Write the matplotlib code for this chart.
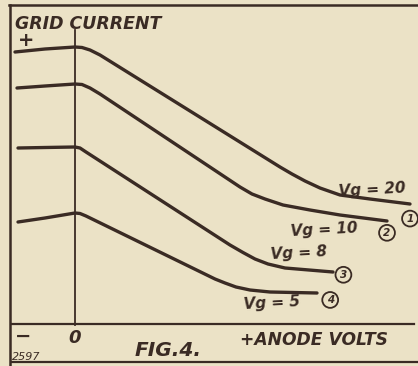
import numpy as np
from matplotlib import pyplot as plt

plt.rcParams.update({
    "font.family": ['DejaVu Sans'],
    "font.style": 'italic',
    "font.weight": 'bold',
})

paper = '#ebe2c6'
ink = '#3a2b24'

# anode volts (arbitrary scale) and grid current for each grid voltage
v_g20 = [-30, -15, 0, 3.5, 7.5, 12.5, 102.5, 108.5, 115, 122.5, 132.5, 147.5, 167.5]
i_g20 = [27.2, 27.5, 27.7, 27.65, 27.4, 26.9, 15.7, 15.0, 14.3, 13.6, 12.9, 12.5, 12.0]

v_g10 = [-29, -15, 0, 3.5, 7.5, 12.5, 82.5, 88.5, 95, 104, 117.5, 132.5, 156]
i_g10 = [23.6, 23.8, 24.0, 23.95, 23.6, 23.0, 13.7, 13.0, 12.5, 11.9, 11.4, 10.9, 10.3]

v_g8 = [-28.5, -15, 0, 2.5, 5.5, 77.5, 84, 90, 96.5, 105, 129]
i_g8 = [17.6, 17.65, 17.7, 17.6, 17.2, 7.9, 7.15, 6.5, 6.0, 5.6, 5.2]

v_g5 = [-28.5, -15, 0, 2.5, 5.5, 70, 75, 80.5, 87.5, 97.5, 121]
i_g5 = [10.2, 10.6, 11.1, 11.05, 10.8, 4.5, 4.1, 3.7, 3.4, 3.2, 3.1]

curves = [(v_g20, i_g20), (v_g10, i_g10), (v_g8, i_g8), (v_g5, i_g5)]
vg_labels = ['Vg = 20', 'Vg = 10', 'Vg = 8', 'Vg = 5']
vg_label_pos = [(131.5, 13.4), (107.5, 9.4), (97.5, 7.1), (84, 2.1)]
circle_offsets = [(0, -10.5), (0, -8.5), (7.5, -2), (9.5, -5)]

fig = plt.figure(figsize=(4.18, 3.66), dpi=100, facecolor=paper)
ax = fig.add_axes([0, 0, 1, 1])
ax.set_facecolor(paper)
ax.set_xlim(-37.5, 171.5)
ax.set_ylim(-4.2, 32.4)
ax.axis('off')

# outer frame
ax.plot([0.024, 0.024], [0.0, 0.985], transform=ax.transAxes, color=ink, lw=1.8)
ax.plot([0.022, 1.0], [0.985, 0.985], transform=ax.transAxes, color=ink, lw=1.8)
ax.plot([0.028, 1.0], [0.011, 0.011], transform=ax.transAxes, color=ink, lw=1.6)

# axes
ax.axhline(0, xmin=0.028, xmax=0.99, color=ink, lw=1.6)
ax.axvline(0, ymin=0.113, ymax=0.918, color=ink, lw=1.3)

for k, (v, i) in enumerate(curves):
    ax.plot(v, i, color=ink, lw=2.4, solid_capstyle='round', solid_joinstyle='round')
    ax.annotate(str(k + 1), xy=(v[-1], i[-1]), xytext=circle_offsets[k],
                textcoords='offset points', ha='center', va='center',
                fontsize=7.5, color=ink,
                bbox=dict(boxstyle='circle,pad=0.28', fc='none', ec=ink, lw=1.3))
    lx, ly = vg_label_pos[k]
    ax.text(lx, ly, vg_labels[k], fontsize=11, color=ink, ha='left', va='center',
            rotation=3)

ax.text(-30, 30.0, 'GRID CURRENT', fontsize=12.5, color=ink, ha='left', va='center')
ax.text(-24.5, 28.3, '+', fontsize=14, color=ink, ha='center', va='center')
ax.text(-26, -1.2, '−', fontsize=14, color=ink, ha='center', va='center')
ax.text(0, -1.4, '0', fontsize=13, color=ink, ha='center', va='center')
ax.text(82.5, -1.6, '+ANODE VOLTS', fontsize=12.3, color=ink, ha='left', va='center')
ax.text(30, -2.6, 'FIG.4.', fontsize=14.5, color=ink, ha='left', va='center')
ax.text(-31.5, -3.3, '2597', fontsize=8, weight='normal', color=ink, ha='left', va='center')

fig.savefig('out.png', dpi=100, facecolor=paper)
